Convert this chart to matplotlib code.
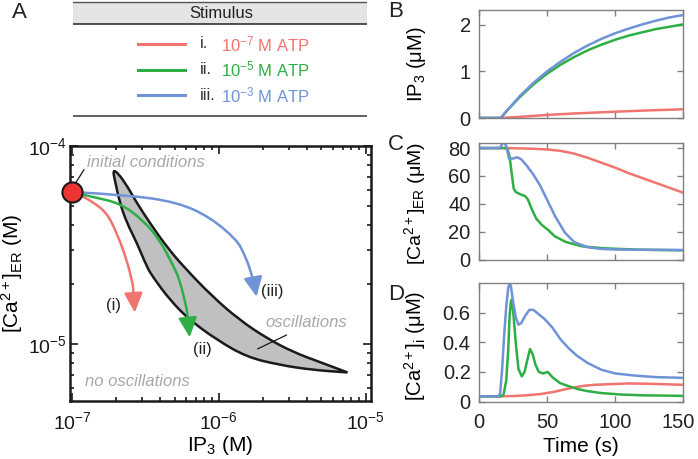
import numpy as np
import matplotlib
matplotlib.use("Agg")
import matplotlib.pyplot as plt
import matplotlib.transforms as mtransforms
from matplotlib.patches import Rectangle, PathPatch
from matplotlib.path import Path
from matplotlib.ticker import LogLocator, FixedLocator, NullFormatter

plt.rcParams['font.family'] = ['Liberation Sans', 'DejaVu Sans']
plt.rcParams['mathtext.fontset'] = 'custom'
plt.rcParams['mathtext.rm'] = 'Liberation Sans'
plt.rcParams['mathtext.it'] = 'Liberation Sans:italic'
plt.rcParams['mathtext.default'] = 'regular'

RED = '#F07470'
GREEN = '#2EAF45'
BLUE = '#6F93D6'
TXT_GRAY = '#A8A8A8'
SPINE_GRAY = '#808080'

# -------------------------------------------------------------
# Panel A data: phase plane (IP3 in M, [Ca2+]ER in M)
# -------------------------------------------------------------
init_ip3, init_er = 1.0e-7, 5.86e-5

osc_upper_ip3 = [1.90e-7, 2.06e-7, 2.40e-7, 2.77e-7, 3.40e-7, 4.43e-7, 5.87e-7,
                 9.10e-7, 1.39e-6, 2.12e-6, 3.19e-6, 4.86e-6, 7.54e-6]
osc_upper_er = [7.56e-5, 7.31e-5, 6.21e-5, 5.15e-5, 4.08e-5, 3.09e-5, 2.42e-5,
                1.73e-5, 1.32e-5, 1.07e-5, 9.12e-6, 8.11e-6, 7.18e-6]
osc_lower_ip3 = [7.54e-6, 4.36e-6, 2.60e-6, 1.55e-6, 9.69e-7, 6.35e-7, 4.64e-7,
                 3.56e-7, 3.24e-7, 2.77e-7, 2.37e-7, 2.12e-7, 1.96e-7]
osc_lower_er = [7.18e-6, 7.39e-6, 7.83e-6, 8.59e-6, 1.05e-5, 1.32e-5, 1.67e-5,
                2.18e-5, 2.45e-5, 3.24e-5, 4.08e-5, 5.15e-5, 6.73e-5]

traj_red_ip3 = [1.00e-7, 1.13e-7, 1.39e-7, 1.73e-7, 2.02e-7, 2.37e-7, 2.60e-7, 2.68e-7]
traj_red_er = [5.86e-5, 5.66e-5, 5.21e-5, 4.59e-5, 3.64e-5, 2.65e-5, 1.99e-5, 1.44e-5]
traj_green_ip3 = [1.00e-7, 1.39e-7, 2.12e-7, 3.04e-7, 3.97e-7, 4.86e-7, 5.43e-7, 6.06e-7, 6.35e-7]
traj_green_er = [5.86e-5, 5.52e-5, 5.15e-5, 4.23e-5, 3.35e-5, 2.51e-5, 2.11e-5, 1.49e-5, 1.08e-5]
traj_blue_ip3 = [1.00e-7, 2.37e-7, 5.18e-7, 8.69e-7, 1.33e-6, 1.48e-6, 1.63e-6, 1.76e-6, 1.81e-6]
traj_blue_er = [5.86e-5, 5.66e-5, 5.21e-5, 4.38e-5, 3.35e-5, 2.88e-5, 2.42e-5, 1.94e-5, 1.73e-5]

# -------------------------------------------------------------
# Panels B-D data: time courses
# -------------------------------------------------------------
t_b = [0, 10, 16, 20, 30, 40, 50, 60, 70, 80, 90, 100, 110, 120, 130, 140, 150]
ip3_blue = [0, 0, 0, 0.14, 0.47, 0.755, 1.0, 1.21, 1.40, 1.56, 1.70, 1.82, 1.92, 2.01, 2.09, 2.16, 2.21]
ip3_green = [0, 0, 0, 0.14, 0.45, 0.72, 0.95, 1.145, 1.31, 1.455, 1.575, 1.68, 1.77, 1.84, 1.91, 1.96, 2.01]
ip3_red = [0, 0, 0, 0.008, 0.025, 0.045, 0.065, 0.082, 0.097, 0.11, 0.123, 0.135, 0.147, 0.158, 0.168, 0.178, 0.187]

t_c_red = [0, 20, 40, 50, 60, 70, 80, 90, 100, 110, 120, 130, 140, 150]
er_red = [80, 80, 79.5, 79, 78, 76, 73, 69.5, 66, 62, 58.5, 55, 51.5, 48]
t_c_green = [0, 19, 21, 22.5, 24, 25.5, 27, 30, 34, 36, 38, 42, 46, 51, 56, 64, 76, 90, 100, 120, 150]
er_green = [80, 80, 79, 74, 62, 51, 48.5, 47, 45.5, 43, 38, 29.5, 25, 21, 16.5, 12.5, 9.4, 8.2, 7.7, 7.0, 6.6]
t_c_blue = [0, 15, 16.5, 18.5, 20.5, 22, 25, 28, 31, 35, 40, 45, 50, 56, 63, 70, 80, 90, 100, 120, 150]
er_blue = [80, 80, 82, 85, 80, 72.5, 72.5, 73.4, 72, 67.5, 61, 53, 43, 31, 19.5, 12.5, 8.8, 7.6, 7.2, 7.0, 6.8]

t_d_red = [0, 15, 25, 35, 45, 55, 62, 70, 78, 85, 95, 110, 125, 140, 150]
cai_red = [0.035, 0.035, 0.037, 0.042, 0.05, 0.065, 0.08, 0.095, 0.107, 0.113, 0.117, 0.122, 0.12, 0.116, 0.113]
t_d_green = [0, 16, 18, 20, 21.5, 22.5, 23.5, 24.2, 25.5, 27, 29, 31.5, 33.5, 35.5, 37.5, 39.5,
             41.5, 44, 47, 50.5, 54.5, 59.5, 65.5, 73, 80, 90, 105, 120, 150]
cai_green = [0.035, 0.035, 0.045, 0.14, 0.35, 0.58, 0.68, 0.69, 0.57, 0.4, 0.22, 0.17, 0.2, 0.28, 0.355, 0.32,
             0.25, 0.2, 0.19, 0.2, 0.16, 0.125, 0.105, 0.083, 0.07, 0.057, 0.047, 0.042, 0.038]
t_d_blue = [0, 14, 15.5, 17, 18.5, 20, 21.5, 22.5, 23.5, 25, 27, 29, 31, 34, 37, 40, 44, 48,
            54, 60, 66, 72, 80, 90, 100, 115, 130, 150]
cai_blue = [0.035, 0.035, 0.05, 0.22, 0.45, 0.64, 0.77, 0.80, 0.78, 0.68, 0.57, 0.52, 0.53, 0.58, 0.62, 0.62, 0.59, 0.56,
            0.50, 0.42, 0.36, 0.31, 0.26, 0.215, 0.19, 0.175, 0.165, 0.16]

stim_roman = ['i.', 'ii.', 'iii.']
stim_exp = ['-7', '-5', '-3']
stim_colors = [RED, GREEN, BLUE]

# -------------------------------------------------------------
# Figure
# -------------------------------------------------------------
W, H = 698, 459
fig = plt.figure(figsize=(W / 100, H / 100), dpi=100)


def px_rect(x0, y0, x1, y1):
    return [x0 / W, 1 - y1 / H, (x1 - x0) / W, (y1 - y0) / H]


def gmid(p, q):
    # midpoint on log-log axes
    return (np.sqrt(p[0] * q[0]), np.sqrt(p[1] * q[1]))


def smooth_path(xs, ys, closed=False):
    pts = list(zip(xs, ys))
    n = len(pts)
    if closed:
        verts = [gmid(pts[-1], pts[0])]
        codes = [Path.MOVETO]
        for i in range(n):
            verts += [pts[i], gmid(pts[i], pts[(i + 1) % n])]
            codes += [Path.CURVE3, Path.CURVE3]
        verts.append(verts[0])
        codes.append(Path.CLOSEPOLY)
    else:
        verts = [pts[0]]
        codes = [Path.MOVETO]
        for i in range(1, n - 1):
            verts += [pts[i], gmid(pts[i], pts[i + 1])]
            codes += [Path.CURVE3, Path.CURVE3]
        verts.append(pts[-1])
        codes.append(Path.LINETO)
    return Path(verts, codes)


TICK_FS = 14.5
LABEL_FS = 15

# ---------------- Panel A ----------------
axA = fig.add_axes(px_rect(70, 146, 371, 401))
axA.set_xscale('log')
axA.set_yscale('log')
axA.set_xlim(9.7e-8, 1.09e-5)
axA.set_ylim(5.15e-6, 1e-4)

axA.add_patch(PathPatch(smooth_path(osc_upper_ip3 + osc_lower_ip3,
                                    osc_upper_er + osc_lower_er, closed=True),
                        facecolor='#C0C0C2', edgecolor='#1a1a1a', lw=1.8, zorder=2))

for xs, ys, c in [(traj_red_ip3, traj_red_er, RED),
                  (traj_green_ip3, traj_green_er, GREEN),
                  (traj_blue_ip3, traj_blue_er, BLUE)]:
    axA.add_patch(PathPatch(smooth_path(xs[:-1], ys[:-1]), fill=False,
                            edgecolor=c, lw=1.8, zorder=3, capstyle='butt'))
    axA.annotate('', xy=(xs[-1], ys[-1]), xytext=(xs[-2], ys[-2]),
                 arrowprops=dict(arrowstyle='-|>,head_length=0.85,head_width=0.4',
                                 color=c, lw=1.8, shrinkA=0, shrinkB=0,
                                 mutation_scale=14), zorder=3)

axA.plot([init_ip3], [init_er], 'o', ms=14.5, mfc='#EE3333', mec='#1a1a1a', mew=1.5,
         zorder=5, clip_on=False)

axA.annotate('', xy=(1.03e-7, 6.3e-5), xytext=(1.21e-7, 7.6e-5),
             arrowprops=dict(arrowstyle='-', color='#1a1a1a', lw=0.9, shrinkA=0, shrinkB=0))
axA.text(1.265e-7, 8.3e-5, 'initial conditions', color=TXT_GRAY, style='italic',
         fontsize=12, ha='left', va='center')
axA.annotate('', xy=(1.84e-6, 9.44e-6), xytext=(2.90e-6, 1.11e-5),
             arrowprops=dict(arrowstyle='-', color='#1a1a1a', lw=0.9, shrinkA=0, shrinkB=0),
             zorder=4)
axA.text(2.09e-6, 1.28e-5, 'oscillations', color=TXT_GRAY, style='italic',
         fontsize=12, ha='left', va='center')
axA.text(1.226e-7, 6.43e-6, 'no oscillations', color=TXT_GRAY, style='italic',
         fontsize=12, ha='left', va='center')
axA.text(1.93e-7, 1.57e-5, '(i)', fontsize=12, ha='center', va='center', color='#222222')
axA.text(7.68e-7, 9.33e-6, '(ii)', fontsize=12, ha='center', va='center', color='#222222')
axA.text(2.33e-6, 1.83e-5, '(iii)', fontsize=12, ha='center', va='center', color='#222222')

axA.xaxis.set_major_locator(FixedLocator([1e-7, 1e-6, 1e-5]))
axA.yaxis.set_major_locator(FixedLocator([1e-5, 1e-4]))
axA.xaxis.set_minor_locator(LogLocator(base=10, subs=np.arange(2, 10), numticks=20))
axA.yaxis.set_minor_locator(LogLocator(base=10, subs=np.arange(2, 10), numticks=20))
axA.xaxis.set_minor_formatter(NullFormatter())
axA.yaxis.set_minor_formatter(NullFormatter())
axA.set_xticklabels([r'$10^{-7}$', r'$10^{-6}$', r'$10^{-5}$'])
axA.set_yticklabels([r'$10^{-5}$', r'$10^{-4}$'])
axA.tick_params(which='both', direction='in', top=True, right=True, colors='#1a1a1a',
                labelsize=14, width=1.2)
axA.tick_params(which='major', length=6)
axA.tick_params(which='minor', length=3)
axA.tick_params(axis='x', which='major', pad=7)
axA.tick_params(axis='y', which='major', pad=2)
for s in axA.spines.values():
    s.set_linewidth(1.8)
    s.set_color('#1a1a1a')
axA.set_xlabel(r'IP$_3$ (M)', fontsize=LABEL_FS, labelpad=1)
axA.set_ylabel(r'[Ca$^{2+}$]$_{ER}$ (M)', fontsize=LABEL_FS)
axA.yaxis.set_label_coords(-0.148, 0.5)

# ---------------- Stimulus legend ----------------
axL = fig.add_axes(px_rect(73, 0, 367, 118))
axL.set_xlim(73, 367)
axL.set_ylim(118, 0)
axL.axis('off')
axL.add_patch(Rectangle((73, 2), 294, 22, facecolor='#E4E4E4', edgecolor='none'))
axL.plot([73, 367], [2, 2], color='#555555', lw=1.0)
axL.plot([73, 367], [24, 24], color='#333333', lw=1.2)
axL.plot([73, 367], [116, 116], color='#444444', lw=1.2)
axL.text(221, 13.5, 'Stimulus', fontsize=12, ha='center', va='center', color='#222222')
for i, (rn, ex, c) in enumerate(zip(stim_roman, stim_exp, stim_colors)):
    yy = 44 + 25.5 * i
    axL.plot([138, 185], [yy, yy], color=c, lw=2.2)
    axL.text(200, yy, rn, fontsize=12, ha='left', va='center', color='#333333')
    axL.text(221, yy, r'$10^{%s}$ M ATP' % ex, fontsize=12, ha='left', va='center', color=c)

# ---------------- Panels B, C, D ----------------
axB = fig.add_axes(px_rect(479, 10, 683, 118))
axC = fig.add_axes(px_rect(479, 142.5, 683, 259.5))
axD = fig.add_axes(px_rect(479, 283.3, 683, 401.5))

axB.plot(t_b, ip3_red, color=RED, lw=1.8)
axB.plot(t_b, ip3_green, color=GREEN, lw=1.8)
axB.plot(t_b, ip3_blue, color=BLUE, lw=1.8)
axB.set_ylim(0, 2.32)
axB.set_yticks([0, 1, 2])
axB.set_ylabel(r'IP$_3$ ($\mu$M)', fontsize=14.5)
axB.yaxis.set_label_coords(-0.25, 0.5)

axC.plot(t_c_red, er_red, color=RED, lw=1.8)
axC.plot(t_c_green, er_green, color=GREEN, lw=1.8)
axC.plot(t_c_blue, er_blue, color=BLUE, lw=1.8)
axC.set_ylim(0, 84)
axC.set_yticks([0, 20, 40, 60, 80])
axC.set_ylabel(r'[Ca$^{2+}$]$_{ER}$ ($\mu$M)', fontsize=14)
axC.yaxis.set_label_coords(-0.25, 0.48)

axD.plot(t_d_red, cai_red, color=RED, lw=1.8)
axD.plot(t_d_green, cai_green, color=GREEN, lw=1.8)
axD.plot(t_d_blue, cai_blue, color=BLUE, lw=1.8)
axD.set_ylim(0, 0.8)
axD.set_yticks([0, 0.2, 0.4, 0.6])
axD.set_yticklabels(['0', '0.2', '0.4', '0.6'])
axD.set_ylabel(r'[Ca$^{2+}$]$_i$ ($\mu$M)', fontsize=14.5)
axD.yaxis.set_label_coords(-0.25, 0.47)
axD.set_xlabel('Time (s)', fontsize=LABEL_FS, labelpad=4)

for ax in (axB, axC, axD):
    ax.set_xlim(0, 150)
    ax.set_xticks([0, 50, 100, 150])
    ax.tick_params(direction='in', top=True, right=True, length=4, width=1.0,
                   color=SPINE_GRAY, labelcolor='#222222', labelsize=TICK_FS)
    ax.tick_params(axis='y', pad=6)
    ax.tick_params(axis='x', pad=8)
    for s in ax.spines.values():
        s.set_color(SPINE_GRAY)
        s.set_linewidth(1.0)
for ax in (axB, axC):
    ax.set_xticklabels([])

# the last time label sits a little left of its tick, as in the original
last = axD.get_xticklabels()[-1]
last.set_transform(last.get_transform() +
                   mtransforms.ScaledTranslation(-5 / 100, 0, fig.dpi_scale_trans))

# panel letters
for lab, (px, py) in zip('ABCD', [(19.5, 12.5), (396, 11.5), (396, 144), (396, 294)]):
    fig.text(px / W, 1 - py / H, lab, fontsize=16, ha='center', va='center', color='#222222')

fig.savefig('out.png', dpi=100)
